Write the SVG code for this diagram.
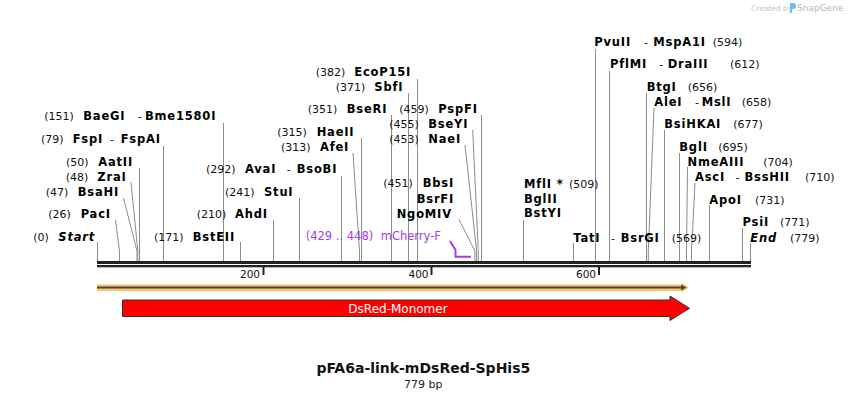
<svg xmlns="http://www.w3.org/2000/svg" width="848" height="400" viewBox="0 0 848 400">
<style>
text{font-family:"DejaVu Sans","Liberation Sans",sans-serif;}
.n{font-size:11.5px;font-weight:bold;letter-spacing:0.8px;fill:#000;}
.ni{font-size:11.5px;font-weight:bold;font-style:italic;letter-spacing:0.8px;fill:#000;}
.p{font-size:11px;fill:#111;}
.d{font-size:11px;fill:#111;}
.pr{font-size:11.5px;fill:#a03ef0;}
.cl{fill:none;stroke:#8c8c8c;stroke-width:1;}
.tk{font-size:10.5px;fill:#111;}
</style>
<rect width="848" height="400" fill="#fff"/>
<g id="watermark">
<text x="751" y="10.5" style="font-size:7.5px;fill:#c4c4c4">Created by</text>
<path d="M790,3 h3 a3,3 0 0 1 0,6 h-1 v4 h-2 z" fill="#6cc0ec"/>
<text x="797" y="11" style="font-size:9px;fill:#b8b8b8">SnapGene</text>
</g>
<g id="connectors">
<polyline class="cl" points="97.5,242 97.5,261"/>
<polyline class="cl" points="115.5,220 119.5,251 119.5,261"/>
<polyline class="cl" points="123.5,198 137,251 137,261"/>
<polyline class="cl" points="131,182 137.8,251 137.8,261"/>
<polyline class="cl" points="139.5,168 139.5,261"/>
<polyline class="cl" points="163.5,146 163.5,261"/>
<polyline class="cl" points="223.5,123 223.5,261"/>
<polyline class="cl" points="240.5,242 240.5,261"/>
<polyline class="cl" points="273.5,220 273.5,261"/>
<polyline class="cl" points="299.5,198 299.5,261"/>
<polyline class="cl" points="341.5,176 341.5,261"/>
<polyline class="cl" points="353,153 359.5,251 359.5,261"/>
<polyline class="cl" points="361.5,138 361.5,261"/>
<polyline class="cl" points="391.5,115 391.5,261"/>
<polyline class="cl" points="408.5,93 408.5,261"/>
<polyline class="cl" points="417.5,79 417.5,261"/>
<polyline class="cl" points="459,219.5 474.9,251 474.9,261"/>
<polyline class="cl" points="465,145 476.6,251 476.6,261"/>
<polyline class="cl" points="472.7,130 478.3,251 478.3,261"/>
<polyline class="cl" points="481.5,115 481.5,261"/>
<polyline class="cl" points="523.5,220 523.5,261"/>
<polyline class="cl" points="573.5,243 573.5,261"/>
<polyline class="cl" points="595.5,49 595.5,261"/>
<polyline class="cl" points="609.5,71 609.5,261"/>
<polyline class="cl" points="646.5,93 646.5,261"/>
<polyline class="cl" points="654,108 648.3,251 648.3,261"/>
<polyline class="cl" points="664.5,130 664.5,261"/>
<polyline class="cl" points="679.5,153 679.5,261"/>
<polyline class="cl" points="687.5,167 686.5,251 686.5,261"/>
<polyline class="cl" points="695,183 691.5,251 691.5,261"/>
<polyline class="cl" points="709.5,205 709.5,261"/>
<polyline class="cl" points="742.5,228 742.5,261"/>
<polyline class="cl" points="750.5,243 750.5,261"/>
<polyline points="450,241 455.5,250 455.5,256.7 471,256.7" fill="none" stroke="#a03ef0" stroke-width="2"/>
</g>
<g id="backbone">
<rect x="97" y="261" width="654" height="3" fill="#222"/>
<rect x="97" y="265" width="654" height="2.3" fill="#222"/>
<rect x="262.5" y="267" width="2" height="8" fill="#222"/>
<rect x="430.5" y="267" width="2" height="8" fill="#222"/>
<rect x="598" y="267" width="2" height="8" fill="#222"/>
<text class="tk" x="260" y="277.5" text-anchor="end">200</text>
<text class="tk" x="428.5" y="277.5" text-anchor="end">400</text>
<text class="tk" x="596" y="277.5" text-anchor="end">600</text>
</g>
<g id="orf">
<polygon points="97,284.3 682,284.3 682,282.8 689,287.6 682,292.4 682,290.9 97,290.9" fill="#f8c775"/>
<line x1="97" y1="287.6" x2="682" y2="287.6" stroke="#4d4540" stroke-width="2"/>
<polygon points="681,284.6 686.5,287.6 681,290.6" fill="#4d4540"/>
</g>
<g id="dsred">
<polygon points="122.5,300 670,300 670,296 689.5,308.3 670,320.5 670,316.5 122.5,316.5" fill="#ff0000" stroke="#333" stroke-width="1"/>
<text x="398" y="312.5" text-anchor="middle" style="font-size:12px;fill:#fff">DsRed-Monomer</text>
</g>
<g id="title">
<text x="423.3" y="373" text-anchor="middle" style="font-size:14px;font-weight:bold;fill:#111">pFA6a-link-mDsRed-SpHis5</text>
<text x="423.3" y="387.5" text-anchor="middle" style="font-size:11px;fill:#222">779 bp</text>
</g>
<g id="site-start"><text class="p" x="33.3" y="240.7">(0)</text><text class="ni" x="58.3" y="240.7">Start</text></g>
<g id="site-paci"><text class="p" x="48.3" y="218.3">(26)</text><text class="n" x="80.7" y="218.3">PacI</text></g>
<g id="site-bsahi"><text class="p" x="45.7" y="195.7">(47)</text><text class="n" x="77.7" y="195.7">BsaHI</text></g>
<g id="site-zrai"><text class="p" x="65.7" y="180.7">(48)</text><text class="n" x="97.3" y="180.7">ZraI</text></g>
<g id="site-aatii"><text class="p" x="66" y="165.7">(50)</text><text class="n" x="98.3" y="165.7">AatII</text></g>
<g id="site-fspi"><text class="p" x="41" y="142.7">(79)</text><text class="n" x="72.7" y="142.7">FspI</text><text class="d" x="110" y="142.7">-</text><text class="n" x="120.7" y="142.7">FspAI</text></g>
<g id="site-baegi"><text class="p" x="44.3" y="120">(151)</text><text class="n" x="83.3" y="120">BaeGI</text><text class="d" x="137.7" y="120">-</text><text class="n" x="145" y="120">Bme1580I</text></g>
<g id="site-bsteii"><text class="p" x="154" y="240.7">(171)</text><text class="n" x="192.7" y="240.7">BstEII</text></g>
<g id="site-ahdi"><text class="p" x="196.7" y="218.3">(210)</text><text class="n" x="235" y="218.3">AhdI</text></g>
<g id="site-stui"><text class="p" x="225" y="195.7">(241)</text><text class="n" x="264" y="195.7">StuI</text></g>
<g id="site-avai"><text class="p" x="206" y="172.7">(292)</text><text class="n" x="245" y="172.7">AvaI</text><text class="d" x="286.7" y="172.7">-</text><text class="n" x="296.7" y="172.7">BsoBI</text></g>
<g id="site-afei"><text class="p" x="281" y="150.7">(313)</text><text class="n" x="320" y="150.7">AfeI</text></g>
<g id="site-haeii"><text class="p" x="277.3" y="135.7">(315)</text><text class="n" x="316.7" y="135.7">HaeII</text></g>
<g id="site-bseri"><text class="p" x="307.7" y="112.7">(351)</text><text class="n" x="346.7" y="112.7">BseRI</text></g>
<g id="site-sbfi"><text class="p" x="335.7" y="90.7">(371)</text><text class="n" x="374.3" y="90.7">SbfI</text></g>
<g id="site-ecop15i"><text class="p" x="315.7" y="75.7">(382)</text><text class="n" x="354.3" y="75.7">EcoP15I</text></g>
<g id="primer-mcherry-f"><text class="pr" x="305.7" y="240">(429 .. 448)</text><text class="pr" x="380.7" y="240">mCherry-F</text></g>
<g id="site-bbsi"><text class="p" x="383.3" y="187.3">(451)</text><text class="n" x="422.7" y="187.3">BbsI</text><text class="n" x="416.7" y="202.7">BsrFI</text><text class="n" x="396.7" y="217.7">NgoMIV</text></g>
<g id="site-naei"><text class="p" x="389.3" y="142.7">(453)</text><text class="n" x="428.3" y="142.7">NaeI</text></g>
<g id="site-bseyi"><text class="p" x="389.3" y="127.7">(455)</text><text class="n" x="428.3" y="127.7">BseYI</text></g>
<g id="site-pspfi"><text class="p" x="399.3" y="112.7">(459)</text><text class="n" x="438.3" y="112.7">PspFI</text></g>
<g id="site-mfli"><text class="n" x="524" y="188.3">MflI *</text><text class="p" x="569" y="188.3">(509)</text><text class="n" x="524" y="202.7">BglII</text><text class="n" x="524" y="217.3">BstYI</text></g>
<g id="site-tati"><text class="n" x="573.3" y="241.7">TatI</text><text class="d" x="611" y="241.7">-</text><text class="n" x="620.7" y="241.7">BsrGI</text><text class="p" x="671.7" y="241.7">(569)</text></g>
<g id="site-pvuii"><text class="n" x="594.3" y="46">PvuII</text><text class="d" x="644" y="46">-</text><text class="n" x="653.3" y="46">MspA1I</text><text class="p" x="712.7" y="46">(594)</text></g>
<g id="site-pflmi"><text class="n" x="610" y="67.7">PflMI</text><text class="d" x="659.3" y="67.7">-</text><text class="n" x="667.7" y="67.7">DraIII</text><text class="p" x="730" y="67.7">(612)</text></g>
<g id="site-btgi"><text class="n" x="646.7" y="91">BtgI</text><text class="p" x="687.7" y="91">(656)</text></g>
<g id="site-alei"><text class="n" x="654.3" y="106">AleI</text><text class="d" x="695" y="106">-</text><text class="n" x="701.7" y="106">MslI</text><text class="p" x="741.7" y="106">(658)</text></g>
<g id="site-bsihkai"><text class="n" x="664.3" y="128.3">BsiHKAI</text><text class="p" x="733.3" y="128.3">(677)</text></g>
<g id="site-bgli"><text class="n" x="679.3" y="150.7">BglI</text><text class="p" x="718.3" y="150.7">(695)</text></g>
<g id="site-nmeaiii"><text class="n" x="687.5" y="165.7">NmeAIII</text><text class="p" x="763.3" y="165.7">(704)</text></g>
<g id="site-asci"><text class="n" x="695" y="180.7">AscI</text><text class="d" x="735.5" y="180.7">-</text><text class="n" x="744.5" y="180.7">BssHII</text><text class="p" x="805" y="180.7">(710)</text></g>
<g id="site-apoi"><text class="n" x="709.3" y="204">ApoI</text><text class="p" x="755" y="204">(731)</text></g>
<g id="site-psii"><text class="n" x="742.5" y="226">PsiI</text><text class="p" x="780" y="226">(771)</text></g>
<g id="site-end"><text class="ni" x="750.3" y="241.7">End</text><text class="p" x="790" y="241.7">(779)</text></g>
</svg>
